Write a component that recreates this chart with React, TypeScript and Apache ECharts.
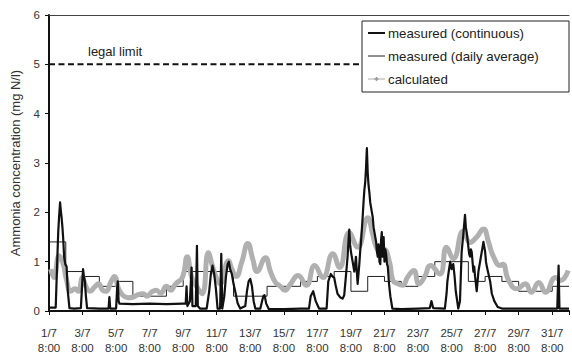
import React, { useEffect, useRef } from "react";
import * as echarts from "echarts";

// x = days since 1/7 8:00
const xMax = 31;
const xTickStep = 2;
const yMax = 6;

const seriesNames = [
  "measured (continuous)",
  "measured (daily average)",
  "calculated",
];

// daily average, one value per day starting 1/7 8:00
const dailyAverage = [
  1.4, 0.8, 0.7, 0.5, 0.6, 0.3, 0.3, 0.5, 0.8, 0.8, 0.8, 0.3, 0.3, 0.5, 0.5, 0.6,
  0.7, 0.8, 0.4, 0.7, 0.6, 0.5, 0.7, 1.0, 1.0, 0.6, 0.7, 0.6, 0.4, 0.4, 0.5,
];

// [day, mg N/l]
const measuredContinuous: [number, number][] = [
  [0, 0.07], [0.4, 0.07], [0.48, 0.9], [0.55, 1.6], [0.6, 1.9], [0.66, 2.2], [0.7, 2.05],
  [0.75, 1.9], [0.8, 1.7], [0.85, 1.45], [0.9, 1.1], [0.97, 0.95], [1.05, 0.9], [1.12, 0.4],
  [1.22, 0.06], [1.5, 0.05], [1.9, 0.06], [1.97, 0.5], [2.03, 0.85], [2.08, 0.7], [2.14, 0.6],
  [2.2, 0.3], [2.27, 0.06], [3.0, 0.05], [3.55, 0.05], [3.6, 0.28], [3.65, 0.05], [4.0, 0.05],
  [4.06, 0.45], [4.1, 0.6], [4.15, 0.2], [4.2, 0.15], [5.0, 0.14], [6.0, 0.15], [7.0, 0.14],
  [8.0, 0.15], [8.15, 0.15], [8.2, 0.5], [8.25, 0.1], [8.4, 0.2], [8.5, 0.88], [8.55, 0.1],
  [8.75, 0.1], [8.82, 1.32], [8.87, 0.1], [9.0, 0.05], [9.4, 0.05], [9.55, 0.4], [9.65, 0.75],
  [9.75, 0.92], [9.85, 0.75], [9.95, 0.45], [10.05, 0.05], [10.2, 0.05], [10.27, 1.16],
  [10.33, 0.05], [10.45, 0.3], [10.55, 0.7], [10.65, 0.95], [10.72, 1.0], [10.8, 0.85],
  [10.9, 0.75], [11.0, 0.55], [11.1, 0.4], [11.25, 0.15], [11.4, 0.05], [11.7, 0.1],
  [11.8, 0.4], [11.9, 0.6], [12.0, 0.65], [12.1, 0.5], [12.2, 0.2], [12.3, 0.05], [12.6, 0.05],
  [12.7, 0.2], [12.78, 0.3], [12.85, 0.32], [12.95, 0.15], [13.1, 0.04], [14.0, 0.04],
  [15.0, 0.05], [15.5, 0.05], [15.6, 0.3], [15.75, 0.4], [15.9, 0.2], [16.1, 0.05],
  [16.55, 0.05], [16.65, 0.6], [16.8, 0.75], [16.9, 0.7], [17.0, 0.68], [17.1, 0.5],
  [17.2, 0.35], [17.35, 0.28], [17.5, 0.25], [17.6, 0.32], [17.7, 0.7], [17.8, 1.1],
  [17.85, 1.4], [17.9, 1.65], [17.95, 1.35], [18.0, 1.2], [18.1, 1.0], [18.2, 0.8],
  [18.3, 1.1], [18.35, 0.8], [18.4, 0.55], [18.5, 0.95], [18.55, 1.2], [18.6, 1.4],
  [18.68, 1.8], [18.75, 2.2], [18.8, 2.45], [18.85, 2.6], [18.9, 2.9], [18.95, 3.3],
  [19.0, 2.8], [19.05, 2.55], [19.1, 2.4], [19.15, 2.2], [19.2, 2.1], [19.25, 2.0],
  [19.3, 1.9], [19.35, 1.7], [19.4, 1.6], [19.45, 1.5], [19.5, 1.4], [19.55, 1.2],
  [19.6, 1.1], [19.65, 1.35], [19.7, 1.0], [19.75, 0.95], [19.8, 1.45], [19.84, 1.6],
  [19.88, 1.1], [19.92, 1.35], [19.95, 1.5], [20.0, 1.0], [20.05, 1.25], [20.1, 1.15],
  [20.15, 0.95], [20.2, 0.9], [20.27, 0.55], [20.35, 0.3], [20.47, 0.05], [21.0, 0.04],
  [22.0, 0.05], [22.7, 0.06], [22.8, 0.2], [22.9, 0.06], [23.6, 0.05], [23.7, 0.35],
  [23.75, 0.6], [23.85, 0.85], [23.92, 1.0], [24.0, 0.85], [24.1, 0.95], [24.18, 0.7],
  [24.25, 0.4], [24.4, 0.05], [24.5, 0.2], [24.55, 0.7], [24.6, 1.2], [24.7, 1.55],
  [24.8, 1.95], [24.85, 1.7], [24.9, 1.6], [24.95, 1.45], [25.0, 1.3], [25.05, 1.15],
  [25.1, 1.1], [25.15, 1.25], [25.2, 1.2], [25.3, 0.8], [25.35, 0.9], [25.4, 0.7],
  [25.45, 0.55], [25.5, 0.4], [25.6, 0.8], [25.7, 1.0], [25.75, 1.1], [25.85, 1.3],
  [25.9, 1.4], [25.95, 1.3], [26.0, 1.2], [26.05, 1.0], [26.1, 0.9], [26.2, 0.75],
  [26.3, 0.6], [26.4, 0.35], [26.55, 0.2], [26.75, 0.08], [27.0, 0.05], [30.3, 0.05],
  [30.38, 0.92], [30.43, 0.05], [31.0, 0.05],
];

// [day, mg N/l]
const calculated: [number, number][] = [
  [0.1, 0.85], [0.3, 0.68], [0.6, 1.12], [0.85, 0.95], [1.05, 0.62], [1.3, 0.4], [1.55, 0.45],
  [1.75, 0.4], [2.0, 0.68], [2.2, 0.5], [2.45, 0.4], [2.75, 0.5], [2.95, 0.55], [3.2, 0.42],
  [3.4, 0.4], [3.7, 0.6], [3.9, 0.7], [4.15, 0.45], [4.4, 0.32], [4.7, 0.27], [5.0, 0.28],
  [5.3, 0.33], [5.6, 0.35], [5.85, 0.3], [6.1, 0.38], [6.4, 0.42], [6.65, 0.36], [7.0, 0.5],
  [7.25, 0.42], [7.55, 0.55], [7.95, 0.68], [8.24, 1.1], [8.5, 0.7], [8.8, 0.5], [9.13, 0.35],
  [9.5, 1.18], [9.75, 0.9], [9.95, 0.7], [10.2, 0.55], [10.7, 1.02], [10.9, 0.85],
  [11.15, 0.7], [11.5, 1.0], [11.85, 1.37], [12.15, 1.05], [12.4, 0.8], [12.9, 1.08],
  [13.2, 0.8], [13.5, 0.58], [13.8, 0.5], [14.06, 0.42], [14.4, 0.55], [14.85, 0.72],
  [15.34, 0.52], [15.84, 0.92], [16.33, 0.68], [16.92, 1.16], [17.32, 0.88], [17.9, 1.59],
  [18.4, 1.29], [19.0, 1.89], [19.3, 1.55], [19.5, 1.3], [19.7, 1.22], [19.95, 1.25],
  [20.3, 0.99], [20.5, 0.62], [20.8, 0.55], [21.07, 0.52], [21.4, 0.7], [21.75, 0.82],
  [22.05, 0.55], [22.4, 0.7], [22.74, 0.92], [23.3, 0.75], [23.7, 1.29], [24.1, 1.06],
  [24.7, 1.62], [25.1, 1.39], [25.5, 1.5], [25.9, 1.66], [26.2, 1.4], [26.5, 1.1],
  [26.9, 0.92], [27.05, 0.95], [27.4, 0.62], [27.9, 0.45], [28.4, 0.55], [28.75, 0.38],
  [29.2, 0.58], [29.6, 0.38], [30.2, 0.68], [30.5, 0.62], [30.95, 0.82],
];

const legalLimit = 5;
const legalLimitSpan = [0, 18.5];
const legalLimitLabel = "legal limit";
const yAxisTitle = "Ammonia concentration (mg N/l)";

const FONT = "'Liberation Sans', Arial, Helvetica, sans-serif";

export default function App() {
  const ref = useRef<HTMLDivElement>(null);

  useEffect(() => {
    document.body.style.margin = "0";
    if (!ref.current) return;
    const chart = echarts.init(ref.current, undefined, { renderer: "svg" });

    const dailySteps: [number, number][] = dailyAverage.map((v, i) => [i, v]);
    dailySteps.push([dailyAverage.length, dailyAverage[dailyAverage.length - 1]]);

    // legend box drawn as graphic
    const lgX = 362;
    const lgY = 21;
    const rowY = [33, 56, 79];
    const sampleX0 = 368;
    const sampleX1 = 385;
    const textX = 388;
    const legendStyles = [
      { stroke: "#111", lineWidth: 2 },
      { stroke: "#222", lineWidth: 1 },
      { stroke: "#aaa", lineWidth: 1 },
    ];
    const legendGraphics: any[] = [
      {
        type: "rect",
        shape: { x: lgX, y: lgY, width: 207, height: 71 },
        style: { fill: "#fff", stroke: "#222", lineWidth: 1 },
        z: 10,
      },
    ];
    seriesNames.forEach((name, i) => {
      legendGraphics.push({
        type: "line",
        shape: { x1: sampleX0, y1: rowY[i], x2: sampleX1, y2: rowY[i] },
        style: legendStyles[i],
        z: 11,
      });
      legendGraphics.push({
        type: "text",
        x: textX,
        y: rowY[i],
        style: {
          text: name,
          fontSize: 13.3,
          fill: "#222",
          fontFamily: FONT,
          verticalAlign: "middle",
          textAlign: "left",
        },
        z: 11,
      });
    });
    const cx = (sampleX0 + sampleX1) / 2;
    legendGraphics.push({
      type: "line",
      shape: { x1: cx - 2, y1: rowY[2], x2: cx + 2, y2: rowY[2] },
      style: { stroke: "#999", lineWidth: 1.5 },
      z: 12,
    });
    legendGraphics.push({
      type: "line",
      shape: { x1: cx, y1: rowY[2] - 2, x2: cx, y2: rowY[2] + 2 },
      style: { stroke: "#999", lineWidth: 1.5 },
      z: 12,
    });

    chart.setOption({
      animation: false,
      textStyle: { fontFamily: FONT },
      grid: { left: 49, right: 0, top: 15, bottom: 41, containLabel: false },
      xAxis: [
        {
          type: "value",
          min: 0,
          max: xMax,
          interval: xTickStep,
          axisLine: { show: true, onZero: false, lineStyle: { color: "#111", width: 2 } },
          axisTick: { show: true, length: 4, lineStyle: { color: "#111", width: 1 } },
          splitLine: { show: false },
          axisLabel: {
            fontSize: 11.5,
            color: "#333",
            lineHeight: 15,
            margin: 14,
            fontFamily: FONT,
            formatter: (v: number) =>
              v % xTickStep === 0 && v < xMax ? `${v + 1}/7\n8:00` : "",
          },
        },
        {
          type: "value",
          position: "top",
          min: 0,
          max: xMax,
          axisLine: { show: true, onZero: false, lineStyle: { color: "#444", width: 1 } },
          axisTick: { show: false },
          axisLabel: { show: false },
          splitLine: { show: false },
        },
      ],
      yAxis: {
        type: "value",
        min: 0,
        max: yMax,
        interval: 1,
        name: yAxisTitle,
        nameLocation: "middle",
        nameGap: 27,
        nameTextStyle: { fontSize: 13, color: "#333", fontFamily: FONT },
        axisLine: { show: true, lineStyle: { color: "#111", width: 2 } },
        axisTick: { show: true, length: 4, lineStyle: { color: "#111", width: 1 } },
        splitLine: { show: false },
        axisLabel: { fontSize: 11.5, color: "#333", margin: 9, fontFamily: FONT },
      },
      graphic: [
        {
          type: "text",
          left: 88,
          top: 45,
          style: {
            text: legalLimitLabel,
            fontSize: 13,
            fill: "#222",
            fontFamily: FONT,
          },
        },
        ...legendGraphics,
      ],
      series: [
        {
          name: "legal",
          type: "line",
          data: [
            [legalLimitSpan[0], legalLimit],
            [legalLimitSpan[1], legalLimit],
          ],
          symbol: "none",
          lineStyle: { color: "#111", width: 2, type: [6, 3.5] },
          silent: true,
        },
        {
          name: seriesNames[1],
          type: "line",
          step: "end",
          data: dailySteps,
          symbol: "none",
          lineStyle: { color: "#222", width: 1 },
        },
        {
          name: seriesNames[2],
          type: "line",
          data: calculated,
          smooth: 0.5,
          symbol: "none",
          lineStyle: { color: "#b0b0b0", width: 5 },
        },
        {
          name: seriesNames[0],
          type: "line",
          data: measuredContinuous,
          symbol: "none",
          lineStyle: { color: "#111", width: 2.2, join: "round" },
        },
      ],
    });

    return () => chart.dispose();
  }, []);

  return <div ref={ref} style={{ width: 572, height: 355 }} />;
}
